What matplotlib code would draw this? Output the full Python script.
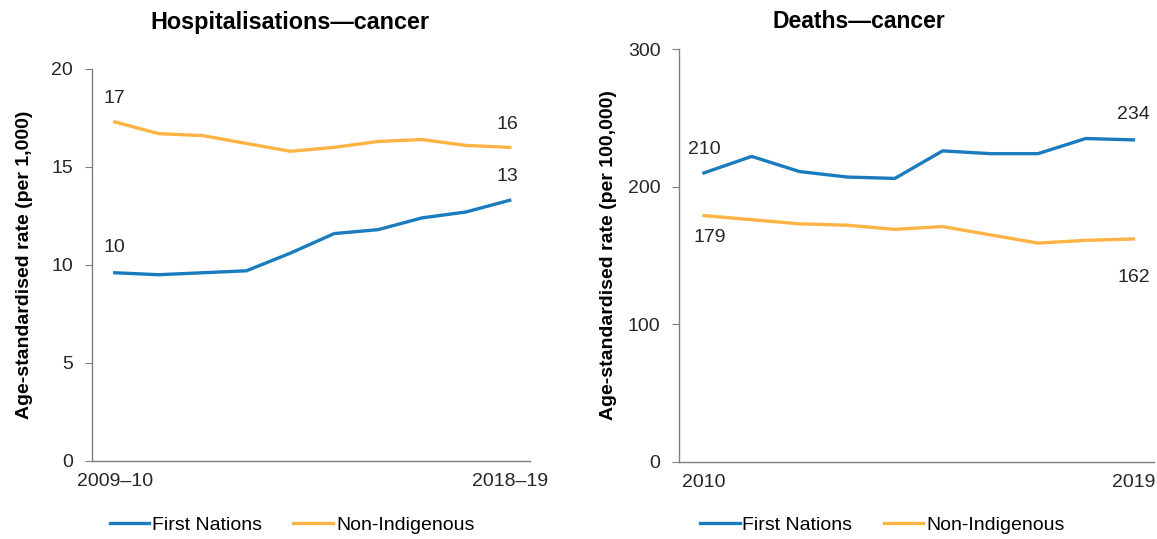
import matplotlib.pyplot as plt

plt.rcParams['font.family'] = ['Liberation Sans', 'DejaVu Sans']

# hospitalisations, per 1,000
hosp_years = ['2009–10', '2010–11', '2011–12', '2012–13', '2013–14',
              '2014–15', '2015–16', '2016–17', '2017–18', '2018–19']
hosp_fn = [9.6, 9.5, 9.6, 9.7, 10.6, 11.6, 11.8, 12.4, 12.7, 13.3]
hosp_ni = [17.3, 16.7, 16.6, 16.2, 15.8, 16.0, 16.3, 16.4, 16.1, 16.0]

# deaths, per 100,000
death_years = ['2010', '2011', '2012', '2013', '2014',
               '2015', '2016', '2017', '2018', '2019']
death_fn = [210, 222, 211, 207, 206, 226, 224, 224, 235, 234]
death_ni = [179, 176, 173, 172, 169, 171, 165, 159, 161, 162]

blue = '#1b7bbf'
orange = '#fdb445'
grey = '#7f7f7f'
txt = '#262626'
fs = 14

fig = plt.figure(figsize=(11.57, 5.39), dpi=100)
ax1 = fig.add_axes([0.0795, 0.145, 0.3785, 0.727])
ax2 = fig.add_axes([0.587, 0.143, 0.410, 0.766])


def style(ax, years, ylim, yticks, xlim):
    x = range(len(years))
    ax.set_xlim(*xlim)
    ax.set_ylim(*ylim)
    ax.set_yticks(yticks)
    ax.set_xticks([0, len(years) - 1])
    ax.set_xticklabels([years[0], years[-1]])
    for s in ['top', 'right']:
        ax.spines[s].set_visible(False)
    for s in ['left', 'bottom']:
        ax.spines[s].set_color(grey)
        ax.spines[s].set_linewidth(1.0)
    ax.tick_params(axis='y', colors=grey, labelcolor=txt, labelsize=fs, length=5, pad=8.5)
    ax.tick_params(axis='x', length=0, labelcolor=txt, labelsize=fs, pad=9)
    return x


def label(ax, xi, yi, text, dy, dx=0):
    ax.annotate(text, (xi, yi), xytext=(dx, dy), textcoords='offset pixels',
                ha='center', va='center', fontsize=fs, color=txt)


x = style(ax1, hosp_years, (0, 20), [0, 5, 10, 15, 20], (-0.52, 9.46))
ax1.plot(x, hosp_fn, color=blue, lw=2.4, label='First Nations')
ax1.plot(x, hosp_ni, color=orange, lw=2.4, label='Non-Indigenous')
ax1.set_title('Hospitalisations—cancer', fontsize=16.8, fontweight='bold', pad=29,
              color='black', x=0.452)
ax1.set_ylabel('Age-standardised rate (per 1,000)', fontsize=fs, fontweight='bold', labelpad=13)
label(ax1, 0, hosp_ni[0], f'{hosp_ni[0]:.0f}', 23)
label(ax1, 0, hosp_fn[0], f'{hosp_fn[0]:.0f}', 25)
label(ax1, 9, hosp_ni[-1], f'{hosp_ni[-1]:.0f}', 23, -2)
label(ax1, 9, hosp_fn[-1], f'{hosp_fn[-1]:.0f}', 24, -2)
ax1.legend(loc='center', bbox_to_anchor=(0.457, -0.163), ncol=2, frameon=False,
           fontsize=fs, handlelength=2.05, handletextpad=0.15, columnspacing=1.6)

x = style(ax2, death_years, (0, 300), [0, 100, 200, 300], (-0.52, 9.42))
ax2.plot(x, death_fn, color=blue, lw=2.4, label='First Nations')
ax2.plot(x, death_ni, color=orange, lw=2.4, label='Non-Indigenous')
ax2.set_title('Deaths—cancer', fontsize=16.5, fontweight='bold', pad=15,
              color='black', x=0.378)
ax2.set_ylabel('Age-standardised rate (per 100,000)', fontsize=fs, fontweight='bold', labelpad=8)
label(ax2, 0, death_fn[0], f'{death_fn[0]}', 23)
label(ax2, 0, death_ni[0], f'{death_ni[0]}', -22, 6)
label(ax2, 9, death_fn[-1], f'{death_fn[-1]}', 25)
label(ax2, 9, death_ni[-1], f'{death_ni[-1]}', -39)
ax2.legend(loc='center', bbox_to_anchor=(0.428, -0.153), ncol=2, frameon=False,
           fontsize=fs, handlelength=2.05, handletextpad=0.15, columnspacing=1.6)

fig.savefig('out.png', dpi=100)
